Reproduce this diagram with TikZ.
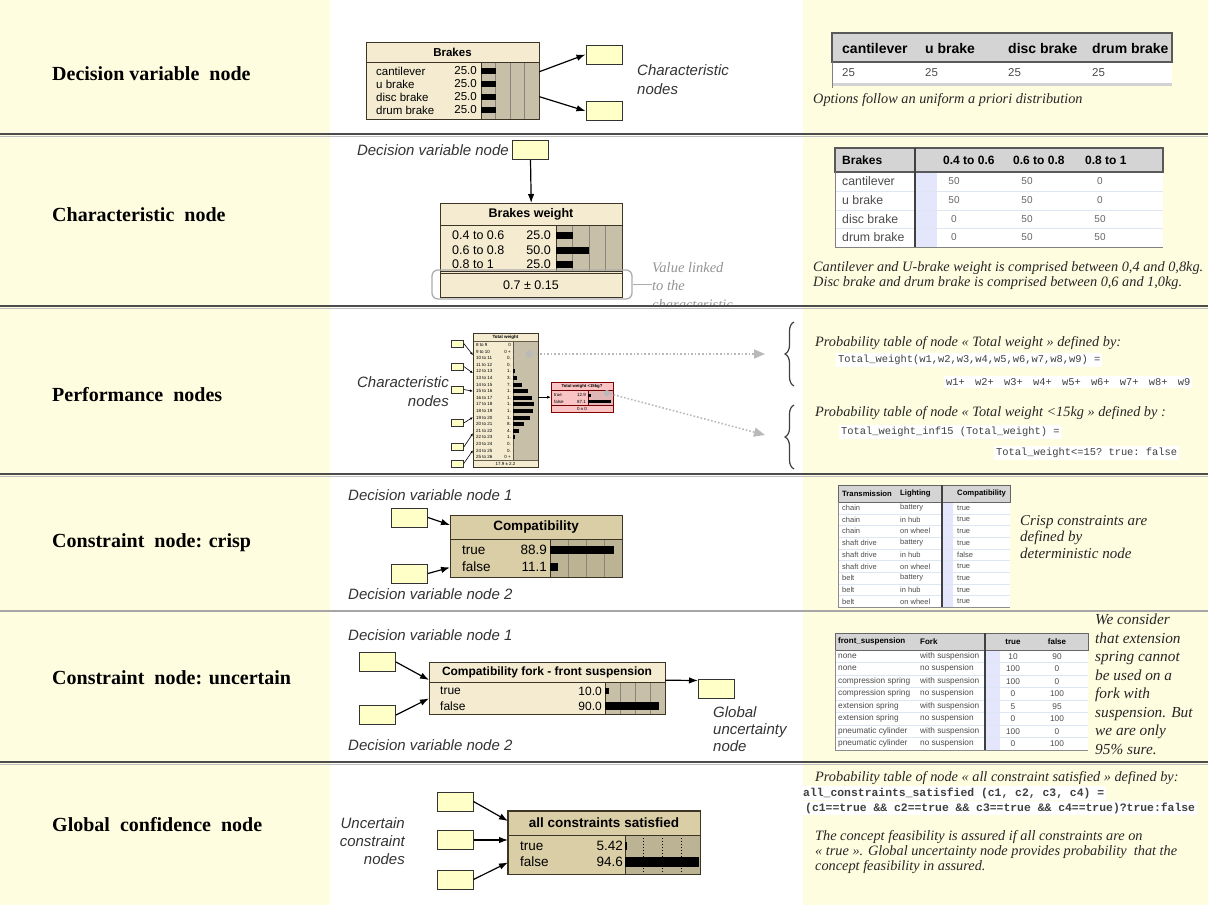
\documentclass[tikz,border=0pt]{standalone}
\usepackage{fontspec}
\setmainfont{Liberation Serif}
\setsansfont{Liberation Sans}
\setmonofont{Liberation Mono}
\usetikzlibrary{arrows.meta,decorations.pathreplacing}

\definecolor{paleyellow}{RGB}{255,253,224}
\definecolor{boxyellow}{RGB}{255,255,200}
\definecolor{netline}{RGB}{60,52,36}
\definecolor{netbody}{RGB}{244,235,208}
\definecolor{nettan}{RGB}{218,206,166}
\definecolor{netbar}{RGB}{200,191,168}
\definecolor{netbardark}{RGB}{188,178,148}
\definecolor{netpink}{RGB}{250,196,196}
\definecolor{tabhead}{RGB}{212,212,212}
\definecolor{tabblue}{RGB}{228,230,252}
\definecolor{tabrule}{RGB}{222,230,244}

\tikzset{
  row label/.style={anchor=west, inner sep=0pt, font=\fontsize{20}{24}\selectfont\bfseries},
  side label/.style={inner sep=0pt, text=black!80, font=\sffamily\itshape\fontsize{15}{19}\selectfont},
  side note/.style={inner sep=0pt, text=black!85, font=\itshape\fontsize{14.3}{15}\selectfont},
  code line/.style={anchor=west, fill=white, inner sep=2pt, text=black!75, font=\ttfamily\fontsize{10.4}{12}\selectfont},
  char box/.style={draw=black!80, line width=1pt, fill=boxyellow, minimum width=36pt, minimum height=19pt, inner sep=0pt},
  tiny box/.style={draw=black!80, line width=0.6pt, fill=boxyellow, minimum width=12pt, minimum height=7pt, inner sep=0pt},
  net frame/.style={fill=netbody, inner sep=0pt},
  net title/.style={inner sep=0pt, font=\sffamily\bfseries\fontsize{#1}{#1}\selectfont},
  net title/.default=11.5,
  net row/.style={anchor=west, inner sep=0pt, font=\sffamily\fontsize{#1}{#1}\selectfont},
  net row/.default=11.5,
  net val/.style={anchor=east, inner sep=0pt, font=\sffamily\fontsize{#1}{#1}\selectfont},
  net val/.default=11.5,
  link arrow/.style={-{Latex[length=9pt,width=6.5pt]}, line width=1.2pt},
  dot arrow/.style={-{Triangle[length=11pt,width=9pt]}, draw=gray!55, line width=1.6pt, dotted},
  tab head/.style={anchor=west, inner sep=0pt, font=\sffamily\bfseries\fontsize{#1}{#1}\selectfont},
  tab cell/.style={anchor=west, inner sep=0pt, text=black!70, font=\sffamily\fontsize{#1}{#1}\selectfont},
  tab num/.style={inner sep=0pt, text=black!60, font=\sffamily\fontsize{10}{10}\selectfont},
}

% frame of a Netica node given by its corners
\newcommand{\netframe}[6]{%
  \node[#6, anchor=north west, minimum width={(#4-#2)*1pt}, minimum height={(#5-#3)*1pt}] (#1) at (#2,#3) {};}
% wider gap between the summed terms
\newcommand{\gap}{\hspace{4pt} }

\begin{document}
\begin{tikzpicture}[x=1pt, y=-1pt]
  \useasboundingbox (0,0) rectangle (1208,905);
  % column backgrounds
  \fill[paleyellow] (0,0) rectangle (330,905);
  \fill[paleyellow] (803,0) rectangle (1208,905);

  % row titles
  \node[row label] (t1) at (52,74) {Decision variable\ \ node};
  \node[row label] (t2) at (52,215) {Characteristic\ \ node};
  \node[row label] (t3) at (52,395) {Performance\ \ nodes};
  \node[row label] (t4) at (52,543) {Constraint\ \ node: crisp};
  \node[row label] (t5) at (52,678) {Constraint\ \ node: uncertain};
  \node[row label] (t6) at (52,825) {Global\ \ confidence\ \ node};

  % ---- decision variable: Brakes
  \netframe{brakes}{366}{42}{539}{119}{net frame}
  \fill[netbar] (481,62) rectangle (539,119);
  \foreach \gx in {495.5,510,524.5}
    \draw[netline!60] (\gx,62) -- (\gx,119);
  \draw[netline] (366,62) -- (539,62) (481,62) -- (481,119);
  \node[net title] at (452.5,52) {Brakes};
  \foreach \opt/\yy in {cantilever/71,u brake/84,disc brake/97,drum brake/110} {
    \node[net row] at (376,\yy) {\opt};
    \node[net val] at (477,\yy) {25.0};
    \fill (481,\yy-3) rectangle (495.5,\yy+3);
  }
  \draw[netline, line width=1pt] (brakes.north west) rectangle (brakes.south east);
  \node[char box] (ch1) at (604,54.5) {};
  \node[char box] (ch2) at (604,111) {};
  \draw[link arrow] ([yshift=9pt]brakes.east) -- (ch1.west);
  \draw[link arrow] ([yshift=-16pt]brakes.east) -- (ch2.west);
  \node[side label, anchor=west, align=left] (chl) at (637,80) {Characteristic\\nodes};

  % prior table
  \fill[tabhead] (832,33) rectangle (1172,62);
  \fill[white] (832,62) rectangle (1172,83);
  \fill[gray!35] (832,83) rectangle (1172,86);
  \draw[black!65, line width=1.3pt] (832,33) rectangle (1172,62);
  \draw[black!50] (832,62) -- (832,88);
  \foreach \hx/\hd in {842/cantilever,925/u brake,1008/disc brake,1092/drum brake} {
    \node[tab head=14] at (\hx,48) {\hd};
    \node[tab cell=11.5] at (\hx,73) {25};
  }
  \node[side note, anchor=west] at (813,100) {Options follow an uniform a priori distribution};

  % ---- characteristic: Brakes weight
  \node[char box] (dv) at (530.5,150) {};
  \node[side label, anchor=east] at ([xshift=-3pt]dv.west) {Decision variable node};
  \netframe{bw}{440}{203}{622}{297}{net frame}
  \fill[netbar] (556,225) rectangle (622,271);
  \foreach \gx in {572.5,589,605.5}
    \draw[netline!60] (\gx,225) -- (\gx,271);
  \draw[netline] (440,225) -- (622,225) (556,225) -- (556,271);
  \draw[netline] (440,271) -- (622,271) (440,273.5) -- (622,273.5);
  \node[net title=12.5] at (531,214) {Brakes weight};
  \foreach \rng/\pc/\yy/\bx in {0.4 to 0.6/25.0/235/572.5,0.6 to 0.8/50.0/250/589,0.8 to 1/25.0/264/572.5} {
    \node[net row=12.5] at (452,\yy) {\rng};
    \node[net val=12.5] at (551,\yy) {\pc};
    \fill (556,\yy-3.5) rectangle (\bx,\yy+3.5);
  }
  \node[net row=12.5, anchor=center] at (531,285) {0.7 ± 0.15};
  \draw[netline, line width=1pt] (bw.north west) rectangle (bw.south east);
  \draw[link arrow] (dv.south) -- (bw.north);
  \node[draw=gray!65, line width=1.3pt, rounded corners=6pt, minimum width=200pt, minimum height=29pt, inner sep=0pt] (vl) at (532,284.5) {};
  \begin{scope}
    \clip (640,250) rectangle (800,305);
    \node[side note, text=gray!85, anchor=north west, align=left, font=\itshape\fontsize{14.5}{18.5}\selectfont] (vlt) at (652,262) {Value linked\\to the\\characteristic};
  \end{scope}
  \draw[gray!65, line width=1.2pt] (vl.east) -- (vlt.west |- vl.east);

  % conditional table
  \fill[white] (835,172) rectangle (1163,247);
  \fill[tabblue] (916,172) rectangle (937,247);
  \foreach \yy in {191,210,228} \draw[tabrule] (835,\yy) -- (1163,\yy);
  \fill[tabhead] (835,148) rectangle (1163,172);
  \draw[black!65, line width=1.3pt] (835,148) rectangle (1163,172);
  \draw[black!50] (835,172) -- (835,247) -- (1163,247);
  \draw[black!75, line width=2.2pt] (915,148) -- (915,247);
  \foreach \hx/\hd in {842/Brakes,943/0.4 to 0.6,1013/0.6 to 0.8,1085/0.8 to 1}
    \node[tab head=12] at (\hx,160) {\hd};
  \foreach \bk/\va/\vb/\vc/\yy in {cantilever/50/50/0/181.5,u brake/50/50/0/200.5,disc brake/0/50/50/219,drum brake/0/50/50/237.5} {
    \node[tab cell=12.3] at (842,\yy) {\bk};
    \node[tab num] at (954,\yy) {\va};
    \node[tab num] at (1027,\yy) {\vb};
    \node[tab num] at (1100,\yy) {\vc};
  }
  \node[side note, anchor=west, align=left] at (813,275.5) {Cantilever and U-brake weight is comprised between 0,4 and 0,8kg.\\Disc brake and drum brake is comprised between 0,6 and 1,0kg.};

  % ---- performance: Total weight
  \node[side label, anchor=east, align=right] at (449,392) {Characteristic\\nodes};
  \netframe{tw}{473}{333}{538}{467}{net frame}
  \fill[netbar] (513,341) rectangle (538,460);
  \draw[netline!80, line width=0.5pt] (473,341) -- (538,341) (473,460) -- (538,460) (513,341) -- (513,460);
  \node[net title=4.5] at (505.5,337) {Total weight};
  \foreach \lo/\val/\bar in {8/0/0,9/0 +/0,10/0./0,11/0./0,12/1./1.5,13/3./4,14/7./9,15/1./14.5,16/1./19,17/1./21,18/1./20,19/1./17,20/8./11,21/4./6,22/1./2,23/0./0,24/0./0,25/0 +/0} {
    \pgfmathtruncatemacro\hi{\lo+1}
    \pgfmathsetmacro\yy{345+6.6*(\lo-8)}
    \node[net row=4.5] at (476,\yy) {\lo\ to \hi};
    \node[net val=4.5] at (511,\yy) {\val};
    \fill (513,\yy-2) rectangle (513+\bar,\yy+2);
  }
  \node[net row=4.5, anchor=center] at (505.5,463.5) {17.9 ± 2.2};
  \draw[netline, line width=0.8pt] (tw.north west) rectangle (tw.south east);
  \node[circle, fill=gray!55, inner sep=0pt, minimum size=7pt] (twdot) at (529,354) {};
  \foreach \by/\ty [count=\k] in {343.5/355,366.5/373,389.5/391,423/417,447/433,463.5/450} {
    \node[tiny box] (w\k) at (457.5,\by) {};
    \pgfmathsetmacro\dy{400-\ty}
    \draw[-{Latex[length=3pt,width=2.5pt]}, line width=0.6pt] (w\k.east) -- ([yshift=\dy pt]tw.west);
  }

  % Total weight <15kg
  \netframe{tl}{551}{382}{613}{412}{net frame, fill=netpink}
  \fill[netpink!80!gray] (588,390) rectangle (613,405);
  \draw[red!45!black, line width=0.4pt] (551,390) -- (613,390) (551,405) -- (613,405) (588,390) -- (588,405);
  \node[net title=4.3] at (582,386) {Total weight <15kg?};
  \node[net row=4.5] at (554,395) {true};
  \node[net val=4.5] at (586,395) {12.9};
  \node[net row=4.5] at (554,401.5) {false};
  \node[net val=4.5] at (586,401.5) {87.1};
  \fill (588,393.5) rectangle (591,396.5);
  \fill (588,400) rectangle (611,403);
  \node[net row=4.5, anchor=center] at (582,408.5) {0 ± 0};
  \draw[red!50!black, line width=0.8pt] (tl.north west) rectangle (tl.south east);
  \node[circle, fill=gray!55, inner sep=0pt, minimum size=6pt] (tldot) at (607,393) {};
  \draw[-{Latex[length=4pt,width=3pt]}, line width=0.7pt] (tw.east |- tl.west) -- (tl.west);

  % links to the formulas
  \coordinate (br1) at (765,354);
  \coordinate (br2) at (765,435);
  \draw[dot arrow] (twdot) -- (br1);
  \draw[dot arrow] (tldot) -- (br2);
  \draw[decorate, decoration={brace, amplitude=9pt}, line width=1.2pt, black!75] (794,386) -- (794,322);
  \draw[decorate, decoration={brace, amplitude=9pt}, line width=1.2pt, black!75] (794,469) -- (794,405);

  \node[side note, anchor=west] at (815,343) {Probability table of node « Total weight » defined by:};
  \node[code line] at (836,360) {Total\_weight(w1,w2,w3,w4,w5,w6,w7,w8,w9) =};
  \node[code line] at (944,382) {w1+\gap w2+\gap w3+\gap w4+\gap w5+\gap w6+\gap w7+\gap w8+\gap w9};
  \node[side note, anchor=west] at (815,413) {Probability table of node « Total weight <15kg » defined by :};
  \node[code line] at (839,432) {Total\_weight\_inf15 (Total\_weight) =};
  \node[code line] at (994,453) {Total\_weight<=15? true: false};

  % ---- crisp constraint
  \node[side label, anchor=west] at (348,495) {Decision variable node 1};
  \node[char box] (cp1) at (409.5,517.5) {};
  \node[char box] (cp2) at (409.5,573.5) {};
  \node[side label, anchor=west] at (348,594) {Decision variable node 2};
  \netframe{cmp}{450}{515}{622}{577}{net frame, fill=nettan}
  \fill[netbardark] (550,539) rectangle (622,577);
  \foreach \gx in {568,586,604}
    \draw[netline!60] (\gx,539) -- (\gx,577);
  \draw[netline] (450,539) -- (622,539) (550,539) -- (550,577);
  \node[net title=13.5] at (536,527) {Compatibility};
  \node[net row=13.5] at (462,550) {true};
  \node[net val=13.5] at (547,550) {88.9};
  \node[net row=13.5] at (462,567) {false};
  \node[net val=13.5] at (547,567) {11.1};
  \fill (550,546) rectangle (614,554);
  \fill (550,563) rectangle (558,571);
  \draw[netline, line width=1pt] (cmp.north west) rectangle (cmp.south east);
  \draw[link arrow] (cp1.east) -- ([yshift=-10pt]cmp.north west);
  \draw[link arrow] (cp2.east) -- ([yshift=10pt]cmp.south west);

  % deterministic table
  \fill[white] (838,502) rectangle (1010,607);
  \fill[tabblue] (943,502) rectangle (953,607);
  \foreach \k in {1,...,8} \draw[tabrule] (838,502+11.7*\k) -- (1010,502+11.7*\k);
  \fill[tabhead] (838,485) rectangle (1010,502);
  \draw[black!60, line width=1pt] (838,485) rectangle (1010,502);
  \draw[black!45] (838,502) -- (838,607) -- (1010,607);
  \draw[black!75, line width=1.8pt] (942,485) -- (942,607);
  \node[tab head=7.7] at (842,493.5) {Transmission};
  \node[tab head=7.7] at (900,493.5) {Lighting};
  \node[tab head=7.7] at (957,493.5) {Compatibility};
  \foreach \tr/\li/\ok [count=\k from 0] in {chain/battery/true,chain/in hub/true,chain/on wheel/true,shaft drive/battery/true,shaft drive/in hub/false,shaft drive/on wheel/true,belt/battery/true,belt/in hub/true,belt/on wheel/true} {
    \pgfmathsetmacro\yy{507.85+11.7*\k}
    \node[tab cell=7.5] at (842,\yy) {\tr};
    \node[tab cell=7.5] at (900,\yy) {\li};
    \node[tab cell=7.5] at (957,\yy) {\ok};
  }
  \node[side note, font=\itshape\fontsize{15}{16.5}\selectfont, anchor=west, align=left] at (1020,537) {Crisp constraints are\\defined by\\deterministic node};

  % ---- uncertain constraint
  \node[side label, anchor=west] at (348,635) {Decision variable node 1};
  \node[char box] (cf1) at (377.5,662) {};
  \node[char box] (cf2) at (377.5,715) {};
  \node[side label, anchor=west] at (348,745) {Decision variable node 2};
  \netframe{fork}{429}{662}{665}{714}{net frame}
  \fill[netbar] (605,682) rectangle (665,714);
  \foreach \gx in {620,635,650}
    \draw[netline!60] (\gx,682) -- (\gx,714);
  \draw[netline] (429,682) -- (665,682) (605,682) -- (605,714);
  \node[net title=12] at (547,672) {Compatibility fork - front suspension};
  \node[net row=12] at (440,691) {true};
  \node[net val=12] at (602,691) {10.0};
  \node[net row=12] at (440,706) {false};
  \node[net val=12] at (602,706) {90.0};
  \fill (605,688) rectangle (609,694);
  \fill (605,702) rectangle (659,710);
  \draw[netline, line width=1pt] (fork.north west) rectangle (fork.south east);
  \draw[link arrow] (cf1.east) -- ([yshift=-18pt]fork.north west);
  \draw[link arrow] (cf2.east) -- ([yshift=16pt]fork.south west);
  \node[char box] (gu) at (716.5,688.5) {};
  \draw[link arrow] ([yshift=8pt]fork.east) -- ([yshift=8pt]gu.west);
  \node[side label, anchor=north west, align=left, font=\sffamily\itshape\fontsize{15}{17}\selectfont] at (713,706) {Global\\uncertainty\\node};

  % probabilistic table
  \fill[white] (835,650) rectangle (1088,750);
  \fill[tabblue] (986,650) rectangle (1000,750);
  \foreach \k in {1,...,7} \draw[tabrule] (835,650+12.5*\k) -- (1088,650+12.5*\k);
  \fill[tabhead] (835,633) rectangle (1088,650);
  \draw[black!60, line width=1pt] (835,633) rectangle (1088,650);
  \draw[black!45] (835,650) -- (835,750) -- (1088,750);
  \draw[black!75, line width=1.8pt] (985,633) -- (985,750);
  \node[tab head=8] at (838,641.5) {front\_suspension};
  \node[tab head=8] at (920,641.5) {Fork};
  \node[tab head=8, anchor=center] at (1013,641.5) {true};
  \node[tab head=8, anchor=center] at (1057,641.5) {false};
  \foreach \fs/\fk/\vt/\vf [count=\k from 0] in {none/with suspension/10/90,none/no suspension/100/0,compression spring/with suspension/100/0,compression spring/no suspension/0/100,extension spring/with suspension/5/95,extension spring/no suspension/0/100,pneumatic cylinder/with suspension/100/0,pneumatic cylinder/no suspension/0/100} {
    \pgfmathsetmacro\yy{656.25+12.5*\k}
    \node[tab cell=8.3] at (838,\yy) {\fs};
    \node[tab cell=8.3] at (920,\yy) {\fk};
    \node[tab cell=8.3, anchor=center] at (1013,\yy) {\vt};
    \node[tab cell=8.3, anchor=center] at (1057,\yy) {\vf};
  }
  \node[side note, font=\itshape\fontsize{15.3}{18.5}\selectfont, anchor=north west, align=left] at (1095,614) {We consider\\that extension\\spring cannot\\be used on a\\fork with\\suspension. But\\we are only\\95\% sure.};

  % ---- global confidence
  \node[side label, anchor=east, align=right, font=\sffamily\itshape\fontsize{15}{18}\selectfont] at (405,841) {Uncertain\\constraint\\nodes};
  \node[char box] (uc1) at (455,801.5) {};
  \node[char box] (uc2) at (455,840) {};
  \node[char box] (uc3) at (455,879.5) {};
  \netframe{acs}{508}{811}{700}{874}{net frame, fill=nettan}
  \fill[netbardark] (625,835) rectangle (700,874);
  \foreach \gx in {643.75,662.5,681.25}
    \draw[black, dotted, line width=1pt] (\gx,835) -- (\gx,874);
  \draw[netline] (508,835) -- (700,835) (625,835) -- (625,874);
  \node[net title=13.5] at (604,823) {all constraints satisfied};
  \node[net row=13.5] at (520,846) {true};
  \node[net val=13.5] at (623,846) {5.42};
  \node[net row=13.5] at (520,862) {false};
  \node[net val=13.5] at (623,862) {94.6};
  \fill (625,842) rectangle (627,850);
  \fill (625,857) rectangle (699,867);
  \draw[netline, line width=1.2pt] (acs.north west) rectangle (acs.south east);
  \draw[link arrow] (uc1.east) -- ([yshift=-10pt]acs.north west);
  \draw[link arrow] (uc2.east) -- (acs.west |- uc2.east);
  \draw[link arrow] (uc3.east) -- ([yshift=12pt]acs.south west);

  \node[side note, anchor=west] at (815,778) {Probability table of node « all constraint satisfied » defined by:};
  \node[code line, font=\ttfamily\bfseries\fontsize{11.4}{12}\selectfont] at (801,793) {all\_constraints\_satisfied (c1, c2, c3, c4) =};
  \node[code line, font=\ttfamily\bfseries\fontsize{11.4}{12}\selectfont] at (803,808) {(c1==true \&\& c2==true \&\& c3==true \&\& c4==true)?true:false};
  \node[side note, anchor=west, align=left] at (815,852) {The concept feasibility is assured if all constraints are on\\« true ». Global uncertainty node provides probability\ \ that the\\concept feasibility in assured.};

  % row separators
  \foreach \sy in {134,306,474,762} {
    \draw[black!70, line width=1.6pt] (0,\sy) -- (1208,\sy);
    \draw[black!25, line width=1pt] (0,\sy+2) -- (1208,\sy+2);
  }
  \draw[black!35, line width=1.6pt] (0,611) -- (1208,611);
\end{tikzpicture}
\end{document}
